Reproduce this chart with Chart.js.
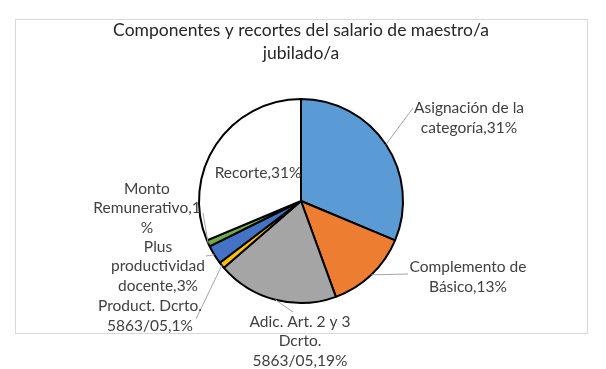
<!DOCTYPE html>
<html>
<head>
<meta charset="utf-8">
<script src="https://cdn.jsdelivr.net/npm/chart.js@4.4.1/dist/chart.umd.min.js"></script>
<style>
  html, body { margin: 0; padding: 0; background: #fff; }
  #wrap { width: 606px; height: 369px; }
</style>
</head>
<body>
<div id="wrap"><canvas id="c" width="606" height="369"></canvas></div>
<script>
// data
var categories = [
  'Asignación de la categoría',
  'Complemento de Básico',
  'Adic. Art. 2 y 3 Dcrto. 5863/05',
  'Product. Dcrto. 5863/05',
  'Plus productividad docente',
  'Monto Remunerativo',
  'Recorte'
];
var values = [31, 13, 19, 1, 3, 1, 31];
// how each label wraps, as in the original
var labelLines = [
  ['Asignación de la', 'categoría,31%'],
  ['Complemento de', 'Básico,13%'],
  ['Adic. Art. 2 y 3', 'Dcrto.', '5863/05,19%'],
  ['Product. Dcrto.', '5863/05,1%'],
  ['Plus', 'productividad', 'docente,3%'],
  ['Monto', 'Remunerativo,1', '%'],
  ['Recorte,31%']
];
var colors = ['#5B9BD5', '#ED7D31', '#A5A5A5', '#FFC000', '#4472C4', '#70AD47', '#FFFFFF'];

// label placement, relative to the pie centre; leader end relative to label centre
var labelOffsets = [[168, -83], [167, 76], [-1, 140], [-151, 115], [-143, 65], [-154, 7], [-43, -28]];
var leaderEnds = [[-56, -10], [-60, -3], [-7, -29], [46, 3], [48, -10], [56, 5], null];

var FONT = 'Lato, "Noto Sans", sans-serif';

var frame = {
  id: 'frame',
  beforeDraw: function(chart) {
    var ctx = chart.ctx;
    ctx.save();
    ctx.fillStyle = '#fff';
    ctx.fillRect(0, 0, chart.width, chart.height);
    ctx.strokeStyle = '#d9d9d9';
    ctx.lineWidth = 1;
    ctx.strokeRect(15.5, 19.5, 572, 314);
    ctx.restore();
  }
};

var pieLabels = {
  id: 'pieLabels',
  afterDatasetsDraw: function(chart) {
    var ctx = chart.ctx;
    var meta = chart.getDatasetMeta(0);
    var lh = 19.5;
    ctx.save();
    ctx.font = '15.5px ' + FONT;
    ctx.textAlign = 'center';
    ctx.textBaseline = 'middle';
    meta.data.forEach(function(arc, i) {
      var p = arc.getProps(['x', 'y', 'startAngle', 'endAngle', 'outerRadius'], true);
      var mid = (p.startAngle + p.endAngle) / 2;
      var lx = p.x + labelOffsets[i][0];
      var ly = p.y + labelOffsets[i][1];
      if (leaderEnds[i]) {
        var sx = p.x + Math.cos(mid) * p.outerRadius;
        var sy = p.y + Math.sin(mid) * p.outerRadius;
        ctx.strokeStyle = '#a6a6a6';
        ctx.lineWidth = 1;
        ctx.beginPath();
        ctx.moveTo(sx, sy);
        ctx.lineTo(lx + leaderEnds[i][0], ly + leaderEnds[i][1]);
        ctx.stroke();
      }
      ctx.fillStyle = '#404040';
      var lines = labelLines[i];
      var y0 = ly - (lines.length - 1) * lh / 2;
      lines.forEach(function(t, k) {
        ctx.fillText(t, lx, y0 + k * lh);
      });
    });
    ctx.restore();
  }
};

new Chart(document.getElementById('c'), {
  type: 'pie',
  data: {
    labels: categories,
    datasets: [{
      data: values,
      backgroundColor: colors,
      borderColor: '#000',
      borderWidth: 2
    }]
  },
  options: {
    responsive: false,
    animation: false,
    layout: { padding: { left: 0, right: 4, top: 0, bottom: 65 } },
    plugins: {
      legend: { display: false },
      tooltip: { enabled: false },
      title: {
        display: true,
        text: ['Componentes y recortes del salario de maestro/a', 'jubilado/a'],
        color: '#262626',
        font: { family: FONT, size: 17.5, weight: 'normal', lineHeight: 1.3 },
        padding: { top: 19, bottom: 33.5 }
      }
    }
  },
  plugins: [frame, pieLabels]
});
</script>
</body>
</html>
